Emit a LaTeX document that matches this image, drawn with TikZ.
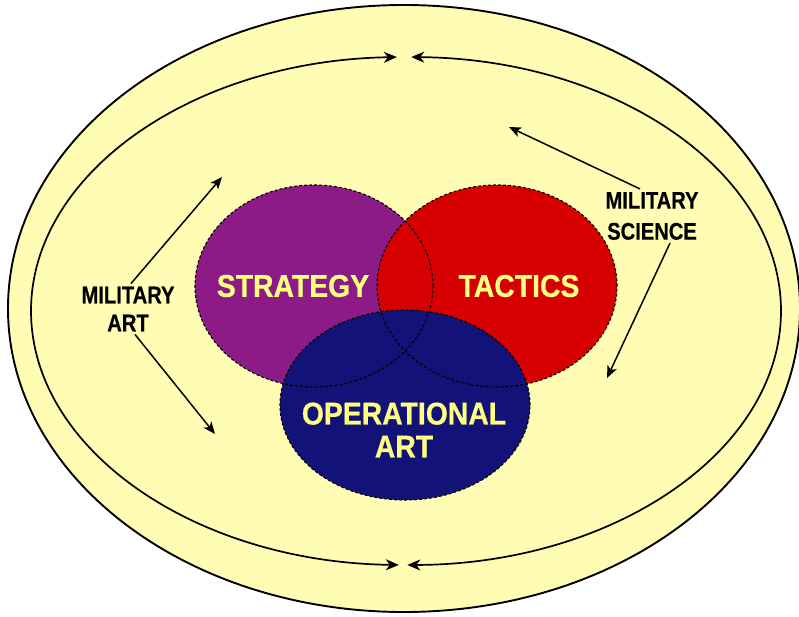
\documentclass[tikz,border=0pt]{standalone}
\usepackage{fontspec}
\usepackage{tikz}
\usetikzlibrary{arrows.meta}
\newfontfamily\vennfont[FakeStretch=0.9,FakeBold=0.6]{Liberation Sans Bold}
\newfontfamily\sidefont[FakeStretch=0.84,FakeBold=0.5]{Liberation Sans Bold}
\definecolor{paleyellow}{RGB}{255,252,179}
\definecolor{stratpurple}{RGB}{140,26,135}
\definecolor{tactred}{RGB}{214,0,0}
\definecolor{opnavy}{RGB}{18,18,120}
\definecolor{lettering}{RGB}{255,255,128}

\begin{document}
\begin{tikzpicture}[
      x=1pt, y=1pt,
      field/.style={fill=paleyellow,draw=black,line width=1.9pt},
      loopback/.style={line width=1.7pt,<->,>={Stealth[length=13pt,width=11pt,inset=4pt]}},
      region/.style={draw=black,densely dashed,line width=1.1pt},
      venntext/.style={font=\vennfont\fontsize{31.5}{33}\selectfont,text=lettering,align=center},
      sidetext/.style={font=\sidefont\fontsize{24}{28}\selectfont,align=center,inner sep=3pt},
      pointer/.style={line width=1.5pt,->,>={Stealth[length=12pt,width=10pt,inset=3pt]}}
    ]
    \useasboundingbox (0,0) rectangle (799,616);
    % Draw the outer field and the loop inside it.
    \draw[field] (404,307.5) ellipse [x radius=396, y radius=303.5];
    \coordinate (hub) at (406,305);
    \draw[loopback] (hub) ++(91.4:375 and 254) arc[start angle=91.4, end angle=268.9, x radius=375, y radius=254];
    \draw[loopback] (hub) ++(89.2:375 and 254) arc[start angle=89.2, end angle=-89.8, x radius=375, y radius=254];
    % Fill the three regions.
    \fill[stratpurple] (314,330) ellipse [x radius=119, y radius=101];
    \fill[tactred] (497,330) ellipse [x radius=120, y radius=101];
    \fill[opnavy] (405,211) ellipse [x radius=125, y radius=95];
    % Dashed outlines on top.
    \draw[region] (314,330) ellipse [x radius=119, y radius=101];
    \draw[region] (497,330) ellipse [x radius=120, y radius=101];
    \draw[region] (405,211) ellipse [x radius=125, y radius=95];
    % Region names.
    \node[venntext] (strategy) at (293,330) {STRATEGY};
    \node[venntext] (tactics) at (519,330) {TACTICS};
    \node[venntext] (opart) at (404,186) {OPERATIONAL\\ART};
    % Side labels and their pointers.
    \node[sidetext] (artlbl) at (128,307) {MILITARY\\ART};
    \node[sidetext, font=\sidefont\fontsize{24}{31}\selectfont] (scilbl) at (652,400) {MILITARY\\SCIENCE};
    \coordinate (artup) at (222,439);
    \coordinate (artdown) at (215,182);
    \coordinate (sciup) at (509,489);
    \coordinate (scidown) at (607,238);
    \draw[pointer] ([xshift=3pt]artlbl.north) -- (artup);
    \draw[pointer] ([xshift=7pt]artlbl.south) -- (artdown);
    \draw[pointer] ([xshift=-12pt]scilbl.north) -- (sciup);
    \draw[pointer] ([xshift=18pt]scilbl.south) -- (scidown);
\end{tikzpicture}
\end{document}
